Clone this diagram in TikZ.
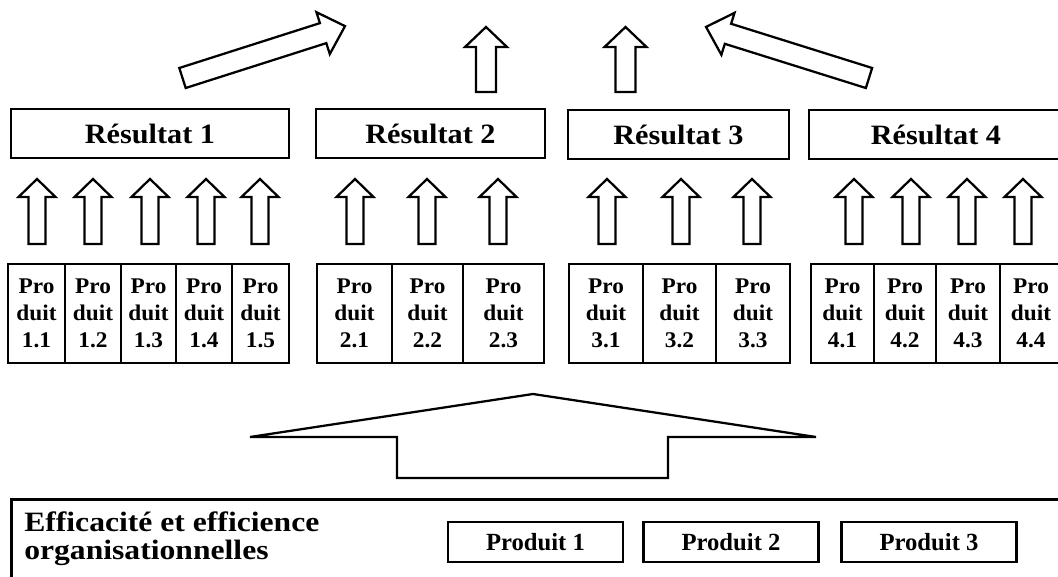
\documentclass[tikz,border=0pt]{standalone}
\usepackage{fontspec}
\setmainfont{Liberation Serif}
\newfontfamily\pdfont{Liberation Serif}[FakeStretch=1.04]
\newfontfamily\rsfont{Liberation Serif}[FakeStretch=1.08]
\newfontfamily\effont{Liberation Serif}[FakeStretch=1.13]
\tikzset{
  arrowline/.style={draw=black, fill=white, line width=1.7pt, line join=miter},
  boxline/.style={draw=black, line width=2pt},
  resbox/.style={boxline, inner sep=0pt, minimum height=49*0.75pt,
    font=\rsfont\bfseries\fontsize{21}{24}\selectfont},
  cell/.style={boxline, inner sep=0pt, minimum height=99*0.75pt, align=center,
    font=\pdfont\bfseries\fontsize{16.8}{20.2}\selectfont},
  prodbox/.style={boxline, inner sep=0pt, minimum height=40*0.75pt, minimum width=175*0.75pt,
    font=\bfseries\fontsize{18.5}{22}\selectfont},
  eftext/.style={inner sep=0pt, anchor=base west, font=\effont\bfseries\fontsize{21}{24}\selectfont},
  pics/barrow/.style n args={4}{code={
    \draw[arrowline] (0,-#2) -- (#1-#4,-#2) -- (#1-#4,-#3) -- (#1,0) -- (#1-#4,#3) -- (#1-#4,#2) -- (0,#2) -- cycle;
  }},
}
\begin{document}
\begin{tikzpicture}[x=0.75pt, y=-0.75pt]
\useasboundingbox (0,0) rectangle (1058,577);
\clip (0,0) rectangle (1058,577);

% top block arrows
\pic[rotate=17.7] at (182.5,78) {barrow={170.6}{10.5}{22}{23}};
\pic[rotate=162.6] at (869,78) {barrow={170.8}{10.5}{22}{23}};
\pic[rotate=90] at (486,92) {barrow={65}{10}{21}{20}};
\pic[rotate=90] at (625.5,92) {barrow={65}{10}{21}{20}};

% results
\node[resbox, minimum width=278*0.75pt] (r1) at (150,133.5) {Résultat 1};
\node[resbox, minimum width=229*0.75pt] (r2) at (430.5,133.5) {Résultat 2};
\node[resbox, minimum width=221*0.75pt] (r3) at (678.5,134.5) {Résultat 3};
\node[resbox, minimum width=254*0.75pt] (r4) at (936,134.5) {Résultat 4};

% middle block arrows
\foreach \ax in {37,93,150,206,260,355,427,498,607,681,752,854,911,967,1023}{
  \pic[rotate=90] at (\ax,244) {barrow={65}{8.5}{18.5}{18}};
}

% products
\node[cell, minimum width=57*0.75pt] (p11) at (36.5,313.5) {Pro\\duit\\1.1};
\node[cell, minimum width=56*0.75pt] (p12) at (93,313.5) {Pro\\duit\\1.2};
\node[cell, minimum width=55*0.75pt] (p13) at (148.5,313.5) {Pro\\duit\\1.3};
\node[cell, minimum width=56*0.75pt] (p14) at (204,313.5) {Pro\\duit\\1.4};
\node[cell, minimum width=57*0.75pt] (p15) at (260.5,313.5) {Pro\\duit\\1.5};

\node[cell, minimum width=75*0.75pt] (p21) at (354.5,313.5) {Pro\\duit\\2.1};
\node[cell, minimum width=71*0.75pt] (p22) at (427.5,313.5) {Pro\\duit\\2.2};
\node[cell, minimum width=81*0.75pt] (p23) at (503.5,313.5) {Pro\\duit\\2.3};

\node[cell, minimum width=74*0.75pt] (p31) at (606,313.5) {Pro\\duit\\3.1};
\node[cell, minimum width=73*0.75pt] (p32) at (679.5,313.5) {Pro\\duit\\3.2};
\node[cell, minimum width=74*0.75pt] (p33) at (753,313.5) {Pro\\duit\\3.3};

\node[cell, minimum width=63*0.75pt] (p41) at (842.5,313.5) {Pro\\duit\\4.1};
\node[cell, minimum width=62*0.75pt] (p42) at (905,313.5) {Pro\\duit\\4.2};
\node[cell, minimum width=64*0.75pt] (p43) at (968,313.5) {Pro\\duit\\4.3};
\node[cell, minimum width=62*0.75pt] (p44) at (1031,313.5) {Pro\\duit\\4.4};

% big arrow
\draw[arrowline] (397,478) -- (397,437) -- (250,437) -- (533,394) -- (816,437)
  -- (668,437) -- (668,478) -- cycle;

% bottom box
\node[boxline, inner sep=0pt, anchor=north west, minimum width=1060*0.75pt,
  minimum height=100*0.75pt] (org) at (10,498) {};
\node[eftext] (ef1) at (24,532) {Efficacité et efficience};
\node[eftext] (ef2) at (24,560) {organisationnelles};
\node[prodbox] (pr1) at (535.5,542) {Produit 1};
\node[prodbox] (pr2) at (731,542) {Produit 2};
\node[prodbox] (pr3) at (929,542) {Produit 3};
\end{tikzpicture}
\end{document}
